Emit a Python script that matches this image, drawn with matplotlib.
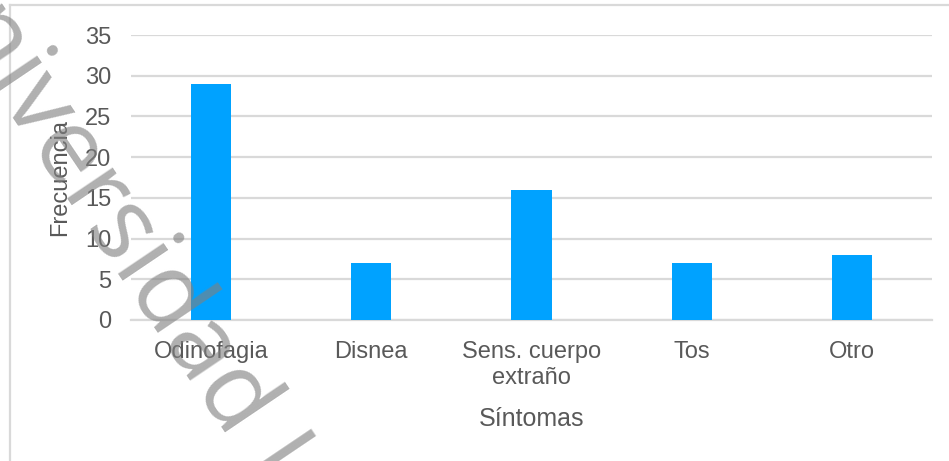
import matplotlib
matplotlib.use('Agg')
import matplotlib.pyplot as plt
from matplotlib.lines import Line2D

plt.rcParams['font.family'] = ['Liberation Sans', 'DejaVu Sans']

categories = ['Odinofagia', 'Disnea', 'Sens. cuerpo\nextraño', 'Tos', 'Otro']
frecuencia = [29, 7, 16, 7, 8]
y_ticks = [0, 5, 10, 15, 20, 25, 30, 35]

text_color = '#595959'
grid_color = '#d9d9d9'

fig = plt.figure(figsize=(9.49, 4.61), dpi=100)
ax = fig.add_axes([131 / 949, (461 - 320) / 461, (932 - 131) / 949, (320 - 35) / 461])

x = range(len(categories))
ax.bar(x, frecuencia, width=0.25, color='#00a2ff', zorder=3)

ax.set_xlim(-0.5, len(categories) - 0.5)
ax.set_ylim(0, 35)
ax.set_yticks(y_ticks)
ax.set_xticks(list(x))
ax.set_xticklabels(categories, fontsize=17, color=text_color, linespacing=1.25)
ax.tick_params(axis='y', labelsize=17, labelcolor=text_color, length=0, pad=14)
ax.tick_params(axis='x', length=0, pad=15)
ax.grid(axis='y', color=grid_color, linewidth=1.6, zorder=0)
for s in ['top', 'right', 'left']:
    ax.spines[s].set_visible(False)
ax.spines['bottom'].set_color(grid_color)
ax.spines['bottom'].set_linewidth(1.6)

ax.yaxis.set_label_coords(-60 / 801, 0.5)
ax.set_ylabel('Frecuencia', fontsize=17, color=text_color)
ax.set_xlabel('Síntomas', fontsize=18, color=text_color, labelpad=13)

# marco del gráfico
fig.add_artist(Line2D([10 / 949, 10 / 949], [0, 1 - 5 / 461], transform=fig.transFigure,
                      color=grid_color, linewidth=1.6))
fig.add_artist(Line2D([10 / 949, 1], [1 - 5 / 461, 1 - 5 / 461], transform=fig.transFigure,
                      color=grid_color, linewidth=1.6))

# marca de agua
fig.text(106 / 949, (461 - 210) / 461, 'Universidad J', fontsize=74, color='#808080', alpha=0.62,
         rotation=-56, rotation_mode='anchor', ha='center', va='center',
         family=['Open Sans', 'DejaVu Sans'], zorder=10)

plt.savefig('out.png', dpi=100)
plt.close()
